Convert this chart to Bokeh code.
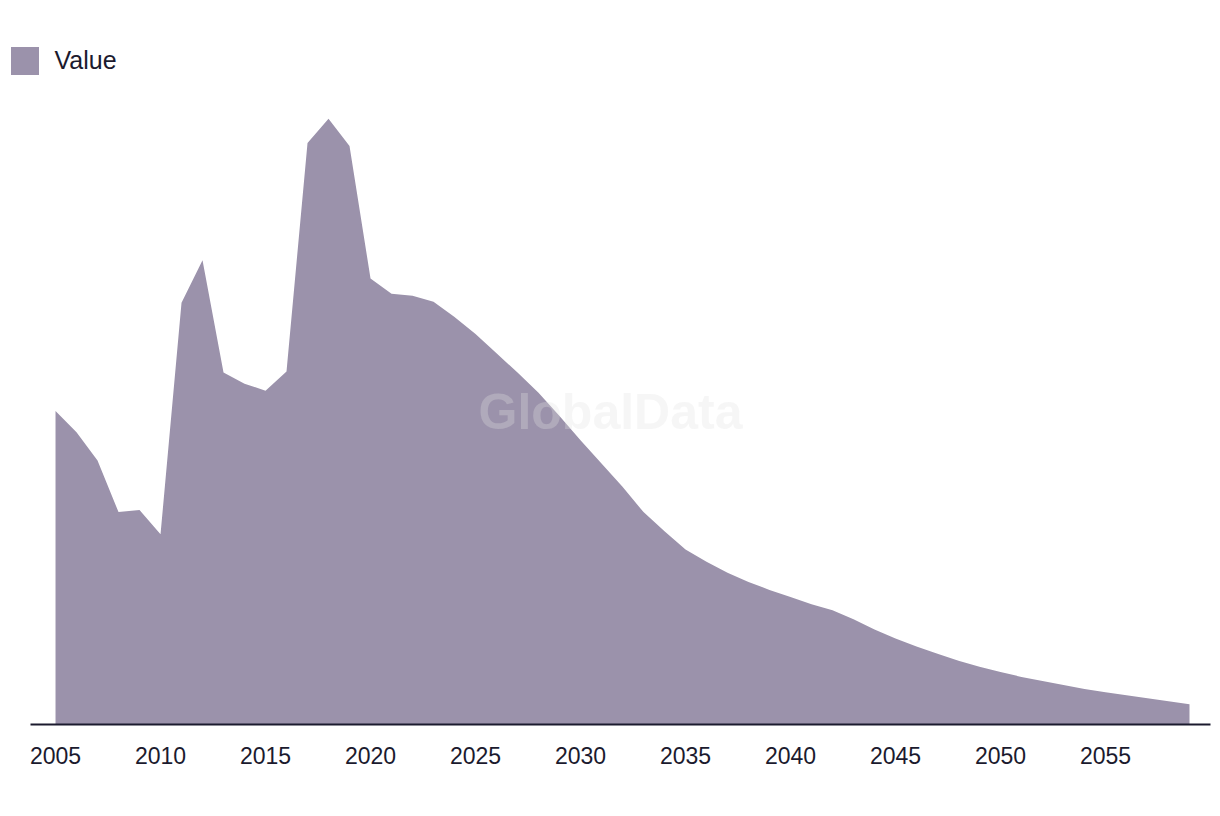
from bokeh.plotting import figure
from bokeh.models import Range1d, FixedTicker, Legend, LegendItem, Label, ColumnDataSource
from bokeh.embed import file_html
from bokeh.resources import INLINE

years = list(range(2005, 2060))
values = [310, 289, 261, 210, 212, 188, 417, 459, 348, 337,
          330, 349, 575, 599, 572, 441, 426, 424, 418, 403,
          386, 367, 348, 328, 305, 281, 258, 235, 210, 191,
          173, 161, 150, 141, 133, 126, 119, 113, 104, 94,
          85, 77, 70, 63, 57, 52, 47, 43, 39, 35,
          32, 29, 26, 23, 20]
tick_years = [2005, 2010, 2015, 2020, 2025, 2030, 2035, 2040, 2045, 2050, 2055]
series_name = "Value"

FONT = "Liberation Sans"
TEXT = "#1b1a2e"
FILL = "#9b92ab"

src = ColumnDataSource(data=dict(year=years, value=values))

p = figure(width=1212, height=800, output_backend="svg", toolbar_location=None,
           x_range=Range1d(2002.38, 2060.0), y_range=Range1d(0, 703),
           min_border_left=0, min_border_right=2, min_border_top=13, min_border_bottom=76)

r = p.varea(x="year", y1=0, y2="value", source=src, fill_color=FILL)

# legend swatch renderer (NaN geometry: draws nothing in the plot, only the legend square)
nan = float("nan")
swatch_src = ColumnDataSource(data=dict(l=[nan], r=[nan], b=[nan], t=[nan]))
swatch = p.quad(left="l", right="r", bottom="b", top="t", source=swatch_src,
                fill_color=FILL, line_color=None)

p.yaxis.visible = False
p.xgrid.visible = False
p.ygrid.visible = False
p.outline_line_color = None
p.background_fill_color = "white"
p.border_fill_color = "white"

ax = p.xaxis[0]
ax.ticker = FixedTicker(ticks=tick_years)
ax.bounds = (2003.81, 2060.0)
ax.major_tick_line_color = None
ax.minor_tick_line_color = None
ax.axis_line_color = TEXT
ax.axis_line_width = 2
ax.major_label_text_font = FONT
ax.major_label_text_font_size = "23px"
ax.major_label_text_color = TEXT
ax.major_label_standoff = 16

legend = Legend(items=[LegendItem(label=series_name, renderers=[swatch], index=0)],
                location=(6.5, 646.5), orientation="horizontal",
                glyph_width=35, glyph_height=35, label_standoff=13,
                label_text_font=FONT, label_text_font_size="25px", label_text_color=TEXT,
                border_line_color=None, background_fill_alpha=0, padding=0, margin=0)
p.add_layout(legend)

wm = Label(x=610, y=313, x_units="screen", y_units="screen", text="GlobalData",
           text_align="center", text_baseline="middle", text_font=FONT,
           text_font_style="bold", text_font_size="50px", text_color="#e0e0e0", text_alpha=0.3)
p.add_layout(wm)

open("out.html", "w").write(file_html(p, INLINE))
